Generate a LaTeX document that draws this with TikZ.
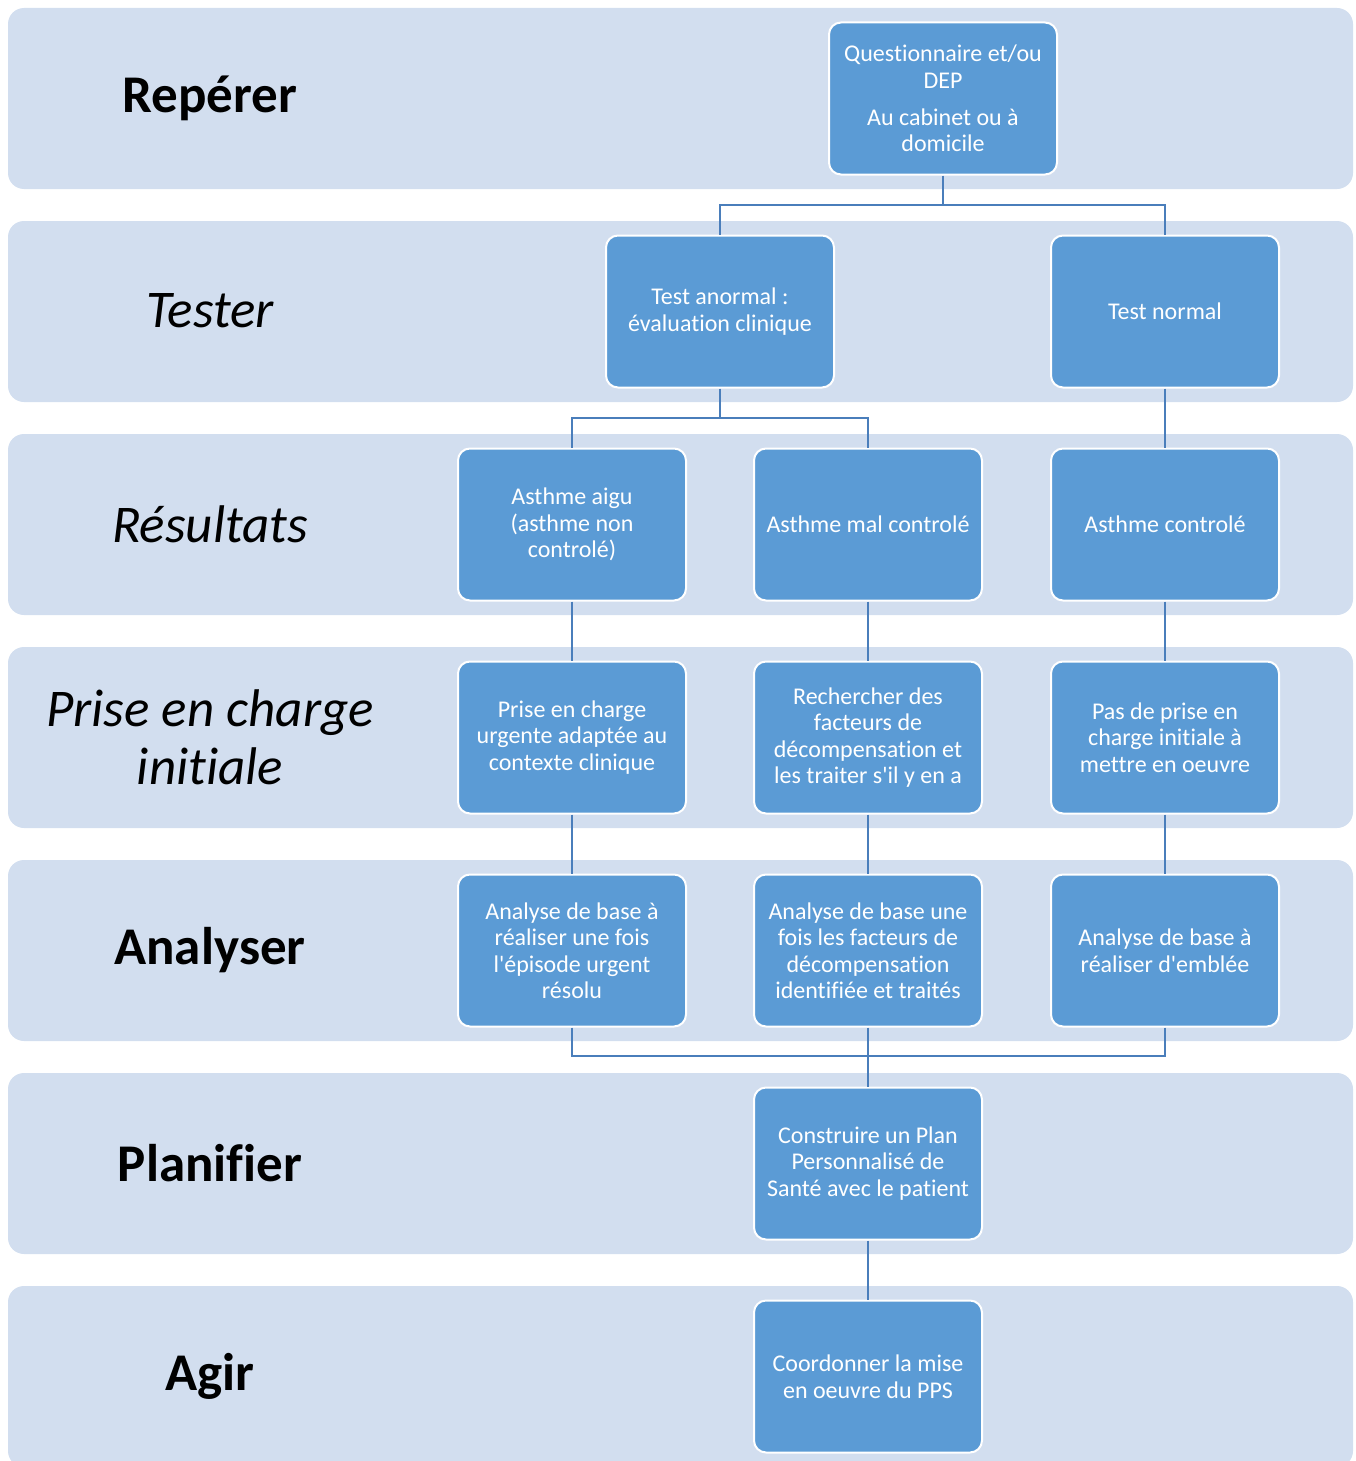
\documentclass[tikz,border=0pt]{standalone}
\usepackage{fontspec}
\setmainfont[Ligatures={NoCommon}]{Carlito}
\definecolor{bandc}{HTML}{D2DEEF}
\definecolor{boxc}{HTML}{5B9BD5}
\definecolor{linec}{HTML}{4A7EBB}
\begin{document}
\begin{tikzpicture}[x=1pt,y=-1pt,
  bx/.style={rectangle, rounded corners=12pt, fill=boxc, draw=white, line width=2pt,
    minimum width=228pt, minimum height=152pt, text=white, align=center,
    font=\fontsize{24}{26.5}\selectfont, inner sep=2pt},
  lbl/.style={font=\fontsize{53}{58}\selectfont, align=center, text=black},
  conn/.style={draw=linec, line width=2.6pt}]
\useasboundingbox (0,0) rectangle (1356,1461);
% bands
\foreach \y in {8,221,434,647,860,1073,1286}
  \fill[bandc, rounded corners=16pt] (8,\y) rectangle (1353,\y+181);
% labels
\node[lbl] (l1) at (210,98) {\bfseries Repérer};
\node[lbl] (l2) at (210,311) {\itshape Tester};
\node[lbl] (l3) at (210,524) {\itshape Résultats};
\node[lbl] (l4) at (210,737) {\itshape Prise en charge\\\itshape initiale};
\node[lbl] (l5) at (210,950) {\bfseries Analyser};
\node[lbl] (l6) at (210,1163) {\bfseries Planifier};
\node[lbl] (l7) at (210,1376) {\bfseries Agir};
% junctions
\coordinate (j1) at (943,205);
\coordinate (j2) at (720,418);
\coordinate (j3) at (868,1056);
% boxes
\node[bx] (q) at (943,98.5) {Questionnaire et/ou\\DEP\\[10pt]Au cabinet ou à\\domicile};
\node[bx] (ta) at (720,311.5) {Test anormal :\\évaluation clinique};
\node[bx] (tn) at (1165,311.5) {Test normal};
\node[bx] (r1) at (572,524.5) {Asthme aigu\\(asthme non\\controlé)};
\node[bx] (r2) at (868,524.5) {Asthme mal controlé};
\node[bx] (r3) at (1165,524.5) {Asthme controlé};
\node[bx] (p1) at (572,737.5) {Prise en charge\\urgente adaptée au\\contexte clinique};
\node[bx] (p2) at (868,737.5) {Rechercher des\\facteurs de\\décompensation et\\les traiter s\textquotesingle il y en a};
\node[bx] (p3) at (1165,737.5) {Pas de prise en\\charge initiale à\\mettre en oeuvre};
\node[bx] (a1) at (572,950.5) {Analyse de base à\\réaliser une fois\\l\textquotesingle épisode urgent\\résolu};
\node[bx] (a2) at (868,950.5) {Analyse de base une\\fois les facteurs de\\décompensation\\identifiée et traités};
\node[bx] (a3) at (1165,950.5) {Analyse de base à\\réaliser d\textquotesingle emblée};
\node[bx] (pl) at (868,1163.5) {Construire un Plan\\Personnalisé de\\Santé avec le patient};
\node[bx] (ag) at (868,1376.5) {Coordonner la mise\\en oeuvre du PPS};
% connectors
\draw[conn] (q.south) -- (j1);
\draw[conn] (j1) -| (ta.north);
\draw[conn] (j1) -| (tn.north);
\draw[conn] (ta.south) -- (j2);
\draw[conn] (j2) -| (r1.north);
\draw[conn] (j2) -| (r2.north);
\draw[conn] (tn.south) -- (r3.north);
\draw[conn] (r1.south) -- (p1.north);
\draw[conn] (r2.south) -- (p2.north);
\draw[conn] (r3.south) -- (p3.north);
\draw[conn] (p1.south) -- (a1.north);
\draw[conn] (p2.south) -- (a2.north);
\draw[conn] (p3.south) -- (a3.north);
\draw[conn] (a1.south) |- (j3);
\draw[conn] (a3.south) |- (j3);
\draw[conn] (a2.south) -- (pl.north);
\draw[conn] (pl.south) -- (ag.north);
\end{tikzpicture}
\end{document}
